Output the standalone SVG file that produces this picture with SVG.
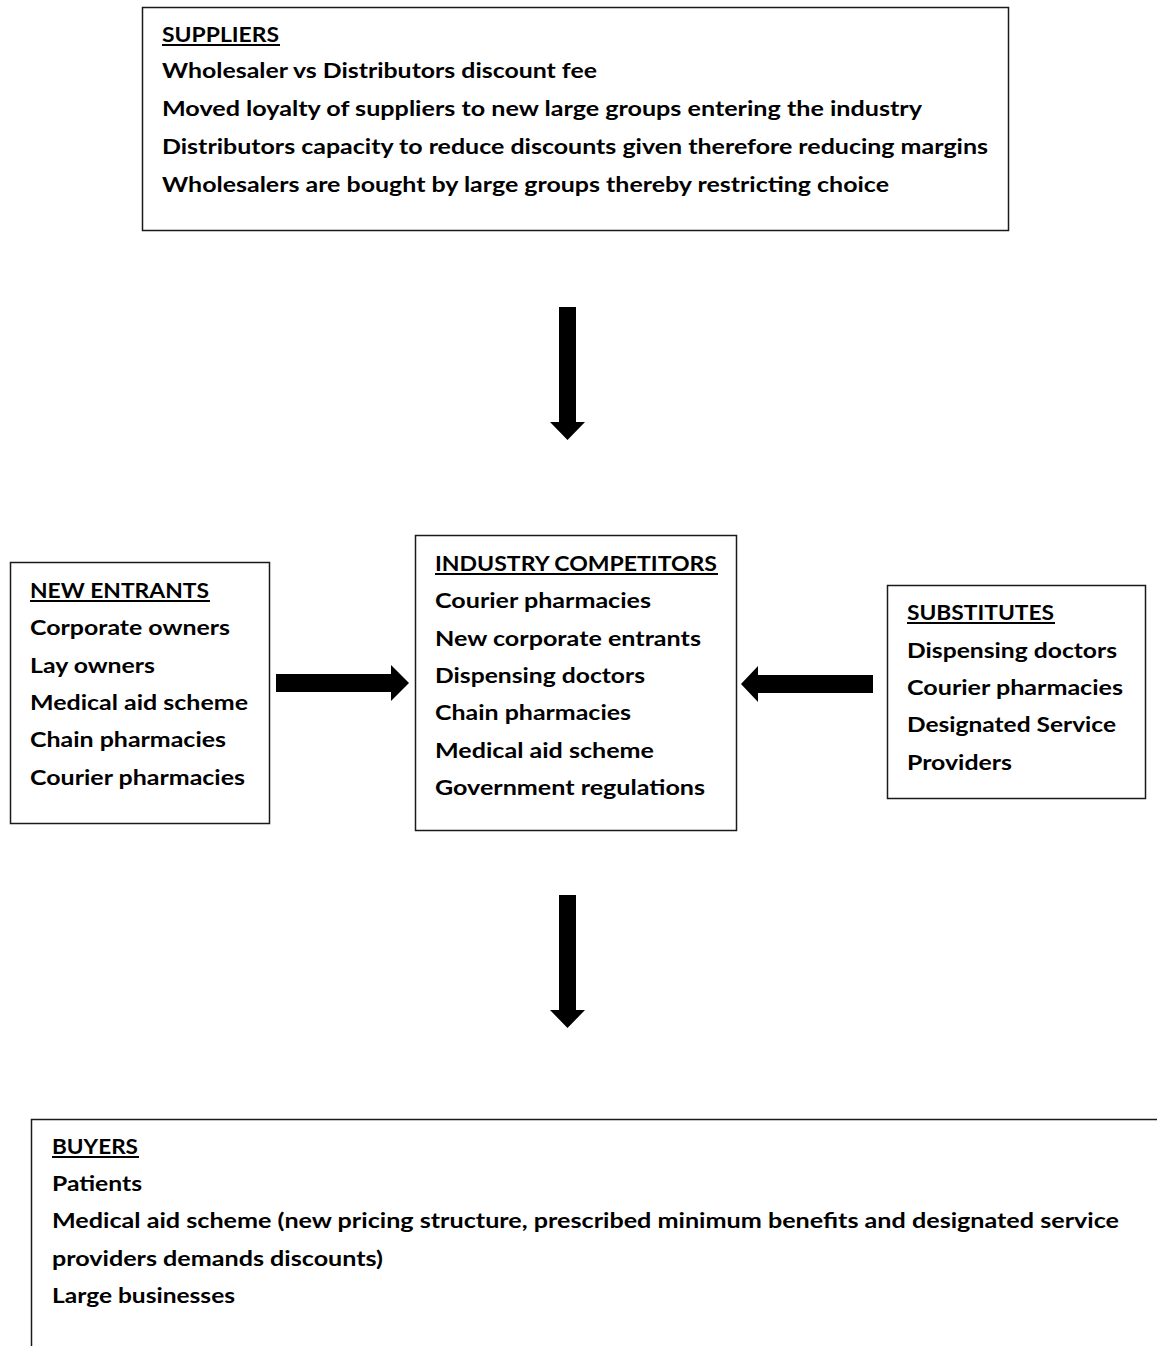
<svg xmlns="http://www.w3.org/2000/svg" width="1157" height="1346" viewBox="0 0 1157 1346">
  <style>
    .box { fill: #fff; stroke: #1a1a1a; stroke-width: 1.5; }
    text { font-family: Lato, "Open Sans", "Liberation Sans", sans-serif; font-weight: bold; font-size: 21px; fill: #000; }
    .ul { stroke: #000; stroke-width: 2; }
    .arrow { fill: #000; }
  </style>
  <rect x="0" y="0" width="1157" height="1346" fill="#fff"/>

  <!-- Suppliers -->
  <g id="suppliers">
    <rect class="box" x="142.5" y="7.5" width="866" height="223"/>
    <text x="162" y="42" textLength="117" lengthAdjust="spacingAndGlyphs">SUPPLIERS</text>
    <line class="ul" x1="162" y1="45" x2="280" y2="45"/>
    <text x="162" y="78" textLength="435" lengthAdjust="spacingAndGlyphs">Wholesaler vs Distributors discount fee</text>
    <text x="162" y="116" textLength="760" lengthAdjust="spacingAndGlyphs">Moved loyalty of suppliers to new large groups entering the industry</text>
    <text x="162" y="154" textLength="826" lengthAdjust="spacingAndGlyphs">Distributors capacity to reduce discounts given therefore reducing margins</text>
    <text x="162" y="192" textLength="727" lengthAdjust="spacingAndGlyphs">Wholesalers are bought by large groups thereby restricting choice</text>
  </g>

  <!-- New entrants -->
  <g id="new-entrants">
    <rect class="box" x="10.5" y="562.5" width="259" height="261"/>
    <text x="30" y="598" textLength="179" lengthAdjust="spacingAndGlyphs">NEW ENTRANTS</text>
    <line class="ul" x1="30" y1="601" x2="210" y2="601"/>
    <text x="30" y="635" textLength="200" lengthAdjust="spacingAndGlyphs">Corporate owners</text>
    <text x="30" y="673" textLength="125" lengthAdjust="spacingAndGlyphs">Lay owners</text>
    <text x="30" y="710" textLength="218" lengthAdjust="spacingAndGlyphs">Medical aid scheme</text>
    <text x="30" y="747" textLength="196" lengthAdjust="spacingAndGlyphs">Chain pharmacies</text>
    <text x="30" y="785" textLength="215" lengthAdjust="spacingAndGlyphs">Courier pharmacies</text>
  </g>

  <!-- Industry competitors -->
  <g id="industry-competitors">
    <rect class="box" x="415.5" y="535.5" width="321" height="295"/>
    <text x="435" y="571" textLength="282" lengthAdjust="spacingAndGlyphs">INDUSTRY COMPETITORS</text>
    <line class="ul" x1="435" y1="574" x2="718" y2="574"/>
    <text x="435" y="608" textLength="216" lengthAdjust="spacingAndGlyphs">Courier pharmacies</text>
    <text x="435" y="646" textLength="266" lengthAdjust="spacingAndGlyphs">New corporate entrants</text>
    <text x="435" y="683" textLength="210" lengthAdjust="spacingAndGlyphs">Dispensing doctors</text>
    <text x="435" y="720" textLength="196" lengthAdjust="spacingAndGlyphs">Chain pharmacies</text>
    <text x="435" y="758" textLength="219" lengthAdjust="spacingAndGlyphs">Medical aid scheme</text>
    <text x="435" y="795" textLength="270" lengthAdjust="spacingAndGlyphs">Government regulations</text>
  </g>

  <!-- Substitutes -->
  <g id="substitutes">
    <rect class="box" x="887.5" y="585.5" width="258" height="213"/>
    <text x="907" y="620" textLength="147" lengthAdjust="spacingAndGlyphs">SUBSTITUTES</text>
    <line class="ul" x1="907" y1="623" x2="1055" y2="623"/>
    <text x="907" y="658" textLength="210" lengthAdjust="spacingAndGlyphs">Dispensing doctors</text>
    <text x="907" y="695" textLength="216" lengthAdjust="spacingAndGlyphs">Courier pharmacies</text>
    <text x="907" y="732" textLength="209" lengthAdjust="spacingAndGlyphs">Designated Service</text>
    <text x="907" y="770" textLength="105" lengthAdjust="spacingAndGlyphs">Providers</text>
  </g>

  <!-- Buyers (box runs past the right and bottom edges) -->
  <g id="buyers">
    <path class="box" d="M1160 1119.5 H31.5 V1350" fill="none"/>
    <text x="52" y="1154" textLength="86" lengthAdjust="spacingAndGlyphs">BUYERS</text>
    <line class="ul" x1="52" y1="1157" x2="139" y2="1157"/>
    <text x="52" y="1191" textLength="90" lengthAdjust="spacingAndGlyphs">Patients</text>
    <text x="52" y="1228" textLength="1067" lengthAdjust="spacingAndGlyphs">Medical aid scheme (new pricing structure, prescribed minimum benefits and designated service</text>
    <text x="52" y="1266" textLength="331" lengthAdjust="spacingAndGlyphs">providers demands discounts)</text>
    <text x="52" y="1303" textLength="183" lengthAdjust="spacingAndGlyphs">Large businesses</text>
  </g>

  <!-- Block arrows between the forces -->
  <g id="connectors">
    <polygon class="arrow" points="559,307 576,307 576,422 585,422 567.5,440 550,422 559,422"/>
    <polygon class="arrow" points="559,895 576,895 576,1010 585,1010 567.5,1028 550,1010 559,1010"/>
    <polygon class="arrow" points="276,674 391,674 391,665 409,683 391,701 391,692 276,692"/>
    <polygon class="arrow" points="873,675 758,675 758,666 741,684 758,702 758,693 873,693"/>
  </g>
</svg>
